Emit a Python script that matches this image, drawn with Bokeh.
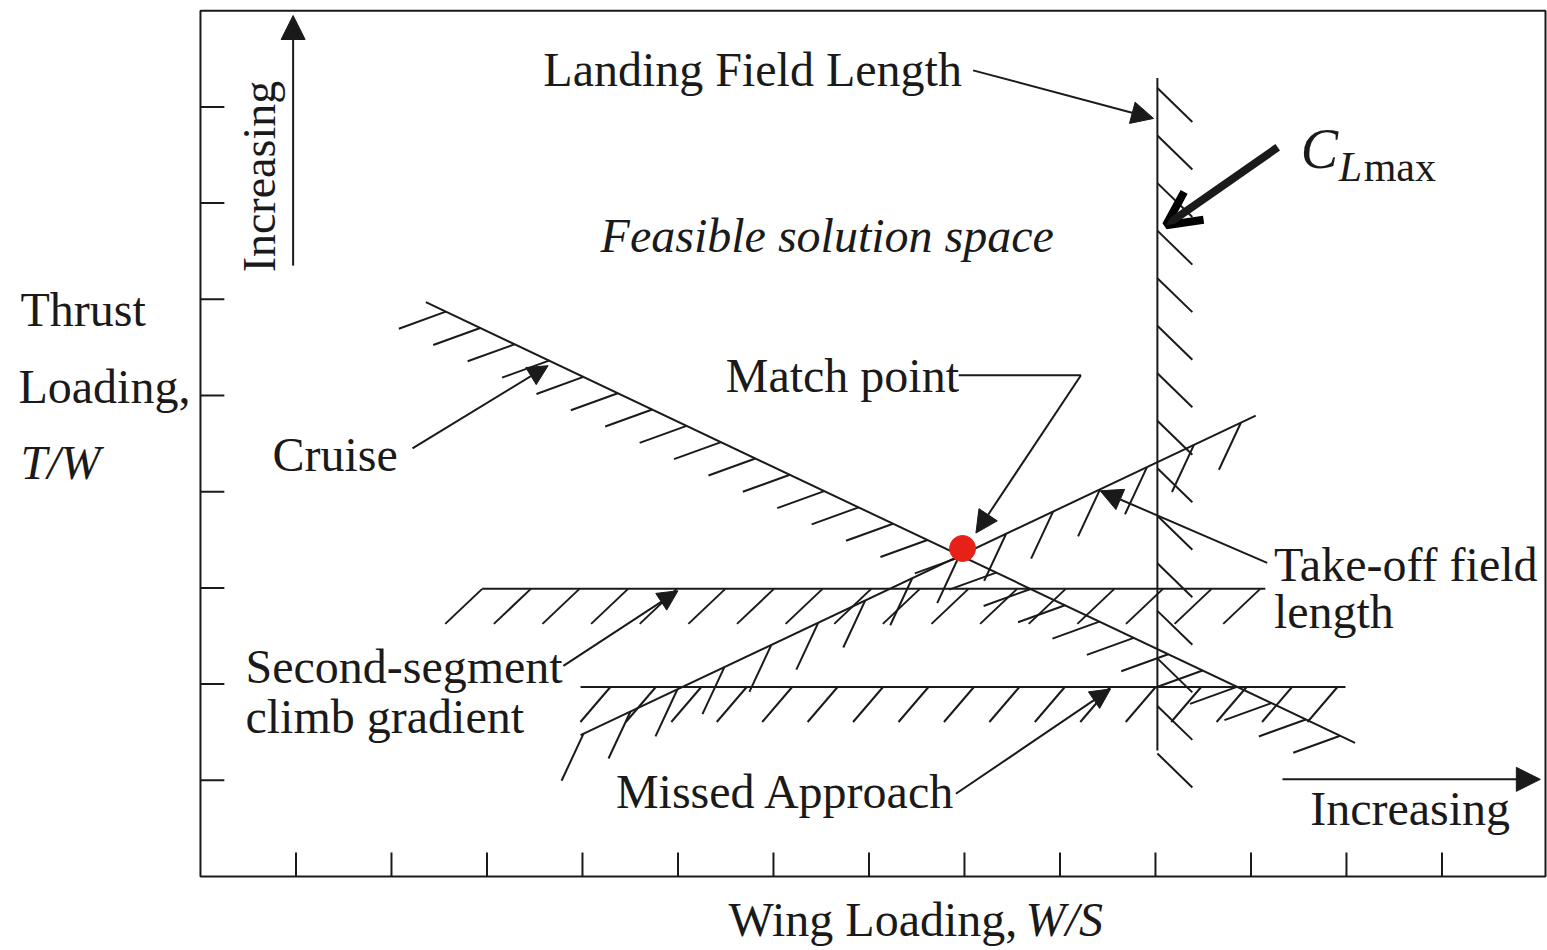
import numpy as np
from bokeh.plotting import figure
from bokeh.models import Range1d, Label, Arrow, NormalHead, OpenHead
from bokeh.embed import file_html
from bokeh.resources import INLINE

# ---- data (W/S on x, T/W on y, in tick units) ----
x_ticks = [1, 2, 3, 4, 5, 6, 7, 8, 9, 10, 11, 12, 13]
y_ticks = [1, 2, 3, 4, 5, 6, 7, 8]
ws_max = 14.084
tw_max = 9.0

cruise_ws = [2.36, 12.09]
cruise_tw = [5.97, 1.39]
takeoff_ws = [3.98, 11.05]
takeoff_tw = [1.47, 4.79]
climb_ws = [2.95, 11.15]
climb_tw = [2.99, 2.99]
missed_ws = [3.98, 11.99]
missed_tw = [1.97, 1.97]
landing_ws = [10.02, 10.02]
landing_tw = [8.30, 1.31]
match_ws = [7.98]
match_tw = [3.41]

# pointer arrows: (start_ws, start_tw, end_ws, end_tw)
ptr_landing = [8.09, 8.38, 9.98, 7.88]
ptr_clmax = [11.28, 7.58, 10.11, 6.77]
ptr_cruise = [2.22, 4.45, 3.64, 5.31]
ptr_match_leader_ws = [7.94, 9.22]
ptr_match_leader_tw = [5.21, 5.21]
ptr_match = [9.22, 5.21, 8.12, 3.57]
ptr_takeoff = [11.17, 3.26, 9.42, 4.01]
ptr_climb = [3.80, 2.19, 5.00, 2.97]
ptr_missed = [7.91, 0.86, 9.53, 1.95]
ptr_inc_y = [0.97, 6.35, 0.97, 8.95]
ptr_inc_x = [11.33, 1.01, 14.03, 1.01]

INK = "#1a1a1a"
FONT = "Liberation Serif"

# the whole canvas is the plotting frame so that the outer captions are not clipped
p = figure(width=1547, height=950, x_range=Range1d(-2.094, 14.105), y_range=Range1d(-0.769, 9.106),
           output_backend="svg", toolbar_location=None,
           min_border=0, min_border_left=0, min_border_right=0, min_border_top=0, min_border_bottom=0)
p.axis.visible = False
p.grid.visible = False
p.outline_line_color = None
p.background_fill_color = "white"
p.border_fill_color = "white"

# chart box and inward ticks
p.quad(left=[0], right=[ws_max], bottom=[0], top=[tw_max], fill_color=None, line_color=INK, line_width=2)
xt = np.array(x_ticks, dtype=float)
yt = np.array(y_ticks, dtype=float)
p.segment(xt, np.zeros_like(xt), xt, np.full_like(xt, 0.25), line_color=INK, line_width=2)
p.segment(np.zeros_like(yt), yt, np.full_like(yt, 0.25), yt, line_color=INK, line_width=2)


def hatched(xs, ys, f0, f1, n, dx, dy):
    x0, x1 = xs
    y0, y1 = ys
    p.line(xs, ys, line_color=INK, line_width=2)
    t = np.linspace(f0, f1, n)
    bx = x0 + t * (x1 - x0)
    by = y0 + t * (y1 - y0)
    p.segment(bx, by, bx + dx, by + dy, line_color=INK, line_width=2)


hatched(cruise_ws, cruise_tw, 0.0215, 0.984, 27, -0.492, -0.177)
hatched(takeoff_ws, takeoff_tw, 0.0044, 0.978, 15, -0.230, -0.489)
hatched(climb_ws, climb_tw, 0.0, 0.9935, 17, -0.387, -0.364)
hatched(missed_ws, missed_tw, 0.039, 0.9895, 17, -0.314, -0.364)
hatched(landing_ws, landing_tw, 0.0149, 1.0044, 15, 0.366, -0.353)

p.scatter(match_ws, match_tw, size=26, fill_color="#e62117", line_color="#e62117")


def arrow(a, size=20, lw=2, head=None):
    h = head if head is not None else NormalHead(size=size, fill_color=INK, line_color=INK, line_width=1)
    p.add_layout(Arrow(end=h, x_start=a[0], y_start=a[1], x_end=a[2], y_end=a[3],
                       line_color=INK, line_width=lw))


arrow(ptr_landing, 22)
arrow(ptr_clmax, lw=8, head=OpenHead(size=34, line_color="black", line_width=8))
arrow(ptr_cruise, 20)
p.line(ptr_match_leader_ws, ptr_match_leader_tw, line_color=INK, line_width=2)
arrow(ptr_match, 22)
arrow(ptr_takeoff, 22)
arrow(ptr_climb, 20)
arrow(ptr_missed, 20)
arrow(ptr_inc_y, 24)
arrow(ptr_inc_x, 24)


def lab(x, y, s, size="48px", style="normal", angle=0.0, baseline="alphabetic"):
    p.add_layout(Label(x=x, y=y, text=s, text_font=FONT, text_font_size=size,
                       text_font_style=style, text_color=INK, angle=angle,
                       text_align="left", text_baseline=baseline))


lab(3.59, 8.39, "Landing Field Length")
lab(4.19, 6.66, "Feasible solution space", style="italic")
lab(-1.885, 5.89, "Thrust")
lab(-1.906, 5.09, "Loading,")
lab(-1.885, 4.30, "T/W", style="italic")
lab(0.754, 4.39, "Cruise")
lab(5.50, 5.21, "Match point")
lab(11.24, 3.24, "Take-off field")
lab(11.24, 2.75, "length")
lab(0.471, 2.18, "Second-segment")
lab(0.471, 1.66, "climb gradient")
lab(4.35, 0.88, "Missed Approach")
lab(11.62, 0.71, "Increasing")
lab(0.62, 6.28, "Increasing", size="46px", angle=np.pi / 2, baseline="middle")
lab(5.53, -0.45, "Wing Loading,")
lab(8.64, -0.45, "W/S", style="italic")
lab(11.52, 7.56, "C", size="56px", style="italic")
lab(11.92, 7.38, "L", size="42px", style="italic")
lab(12.18, 7.38, "max", size="42px")

open("out.html", "w").write(file_html(p, INLINE))
